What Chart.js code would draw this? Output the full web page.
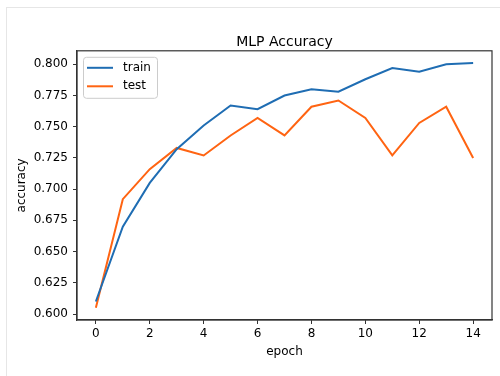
<!DOCTYPE html>
<html>
<head>
<meta charset="utf-8">
<script src="https://cdn.jsdelivr.net/npm/chart.js@4.4.0/dist/chart.umd.min.js"></script>
<style>
  body { margin: 0; background: #fff; }
  #wrap { position: relative; width: 500px; height: 376px; }
  #edge { position: absolute; left: 6px; top: 7px; right: 0; bottom: 0;
          border-top: 1px solid #e6e6e6; border-left: 1px solid #e6e6e6; }
  canvas { position: absolute; left: 0; top: 0; }
</style>
</head>
<body>
<div id="wrap">
  <div id="edge"></div>
  <canvas id="acc" width="500" height="376"></canvas>
</div>
<script>
// ---- data ----
const epochs   = [0, 1, 2, 3, 4, 5, 6, 7, 8, 9, 10, 11, 12, 13, 14];
const trainAcc = [0.610, 0.670, 0.705, 0.732, 0.751, 0.767, 0.764, 0.775, 0.780, 0.778, 0.788, 0.797, 0.794, 0.800, 0.801];
const testAcc  = [0.605, 0.692, 0.716, 0.733, 0.727, 0.743, 0.757, 0.743, 0.766, 0.771, 0.757, 0.727, 0.753, 0.766, 0.725];
const xTicks   = [0, 2, 4, 6, 8, 10, 12, 14];
const yTicks   = [0.600, 0.625, 0.650, 0.675, 0.700, 0.725, 0.750, 0.775, 0.800];

const FONT = 'DejaVu Sans, sans-serif';
const TRAIN_COLOR = '#1f6db3';
const TEST_COLOR  = '#ff6412';
const AXIS_COLOR  = '#333333';

// matplotlib style box around the plot + the little legend in the corner
const framePlugin = {
  id: 'frame',
  afterDatasetsDraw(chart) {
    const { ctx, chartArea: a } = chart;
    ctx.save();
    ctx.strokeStyle = AXIS_COLOR;
    ctx.lineWidth = 1.2;
    ctx.strokeRect(a.left, a.top, a.right - a.left, a.bottom - a.top);

    // legend
    const bx = a.left + 6, by = a.top + 6, bw = 74, bh = 41, r = 3;
    ctx.beginPath();
    ctx.roundRect(bx + 0.5, by + 0.5, bw, bh, r);
    ctx.fillStyle = 'rgba(255,255,255,0.8)';
    ctx.fill();
    ctx.strokeStyle = '#cccccc';
    ctx.lineWidth = 1;
    ctx.stroke();

    ctx.font = '12px ' + FONT;
    ctx.textBaseline = 'middle';
    ctx.textAlign = 'left';
    chart.data.datasets.forEach((ds, i) => {
      const y = a.top + 17 + i * 18.5;
      ctx.beginPath();
      ctx.moveTo(a.left + 10, y);
      ctx.lineTo(a.left + 36, y);
      ctx.strokeStyle = ds.borderColor;
      ctx.lineWidth = 2;
      ctx.stroke();
      ctx.fillStyle = '#000';
      ctx.fillText(ds.label, a.left + 46, y);
    });
    ctx.restore();
  }
};

new Chart(document.getElementById('acc'), {
  type: 'line',
  data: {
    datasets: [
      {
        label: 'train',
        data: epochs.map((e, i) => ({ x: e, y: trainAcc[i] })),
        borderColor: TRAIN_COLOR,
        backgroundColor: TRAIN_COLOR,
        borderWidth: 2,
        pointRadius: 0,
        tension: 0,
      },
      {
        label: 'test',
        data: epochs.map((e, i) => ({ x: e, y: testAcc[i] })),
        borderColor: TEST_COLOR,
        backgroundColor: TEST_COLOR,
        borderWidth: 2,
        pointRadius: 0,
        tension: 0,
      }
    ]
  },
  options: {
    responsive: false,
    animation: false,
    layout: { padding: { top: 0, left: 0, right: 8, bottom: 0 } },
    plugins: {
      legend: { display: false },
      tooltip: { enabled: false },
      title: {
        display: true,
        fullSize: false,   // centre over the plot, not the canvas
        text: 'MLP Accuracy',
        color: '#000',
        font: { family: FONT, size: 14, weight: 'normal' },
        padding: { top: 34, bottom: 0 }
      }
    },
    scales: {
      x: {
        type: 'linear',
        min: -0.7,
        max: 14.7,
        afterBuildTicks: s => { s.ticks = xTicks.map(v => ({ value: v })); },
        afterFit: s => { s.height = 56; },
        grid: { display: true, drawOnChartArea: false, drawTicks: true, tickLength: 4, tickColor: AXIS_COLOR },
        border: { display: true, color: AXIS_COLOR, width: 1.2 },
        ticks: { color: '#000', font: { family: FONT, size: 12 }, padding: 3, maxRotation: 0 },
        title: {
          display: true, text: 'epoch', color: '#000',
          font: { family: FONT, size: 12 },
          padding: { top: 0, bottom: 17 }
        }
      },
      y: {
        min: 0.5952,
        max: 0.8108,
        afterBuildTicks: s => { s.ticks = yTicks.map(v => ({ value: v })); },
        afterFit: s => { s.width = 77; },
        grid: { display: true, drawOnChartArea: false, drawTicks: true, tickLength: 4, tickColor: AXIS_COLOR },
        border: { display: true, color: AXIS_COLOR, width: 1.2 },
        ticks: {
          color: '#000',
          font: { family: FONT, size: 12 },
          padding: 5,
          callback: v => v.toFixed(3)
        },
        title: {
          display: true, text: 'accuracy', color: '#000',
          font: { family: FONT, size: 12 },
          padding: { top: 15, bottom: 0 }
        }
      }
    }
  },
  plugins: [framePlugin]
});
</script>
</body>
</html>
